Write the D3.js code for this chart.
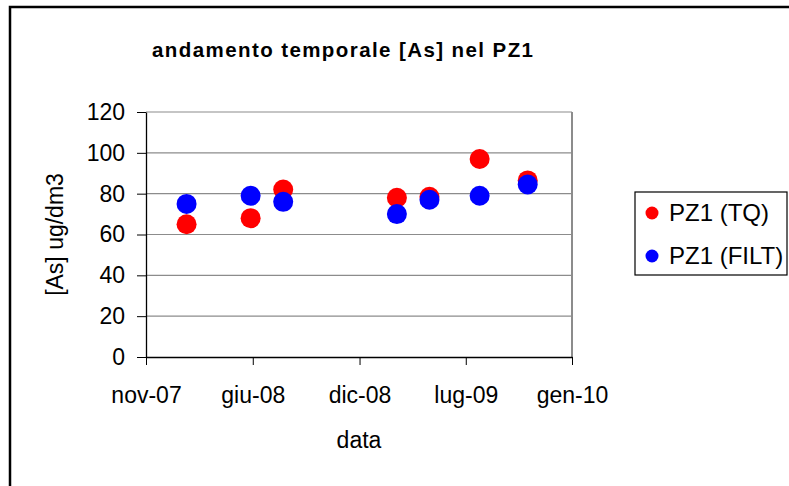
<!DOCTYPE html>
<html>
<head>
<meta charset="utf-8">
<script src="https://cdn.jsdelivr.net/npm/d3@7"></script>
<style>
  html, body { margin: 0; padding: 0; background: #fff; }
  svg { display: block; font-family: "Liberation Sans", Arial, sans-serif; }
</style>
</head>
<body>
<svg id="chart" width="789" height="486"></svg>
<script>
// Sampling dates and arsenic concentrations (ug/dm3) for PZ1
const sampleDates = ["2008-01-29", "2008-05-28", "2008-07-28", "2009-02-26", "2009-04-28", "2009-07-31", "2009-10-29"];
const valuesTQ   = [65, 68, 82, 78, 78.5, 97, 86.5];
const valuesFILT = [75, 79, 76, 70, 77, 79, 84.5];

// Axis ticks
const xTickDates  = ["2007-11-14", "2008-06-01", "2008-12-18", "2009-07-05", "2010-01-20"];
const xTickLabels = ["nov-07", "giu-08", "dic-08", "lug-09", "gen-10"];
const yTicks      = [0, 20, 40, 60, 80, 100, 120];

const seriesNames = ["PZ1 (TQ)", "PZ1 (FILT)"];
const seriesColors = ["#ff0000", "#0000ff"];

const parse = d3.utcParse("%Y-%m-%d");
const svg = d3.select("#chart");

// outer chart frame (runs past the right and bottom edges)
svg.append("path")
  .attr("d", "M10,800 L10,7 L900,7")
  .attr("fill", "none").attr("stroke", "#000").attr("stroke-width", 2.5);

const plot = { left: 146, right: 572, top: 112, bottom: 357 };

const x = d3.scaleUtc()
  .domain([parse(xTickDates[0]), parse(xTickDates[xTickDates.length - 1])])
  .range([plot.left, plot.right]);
const y = d3.scaleLinear().domain([0, 120]).range([plot.bottom, plot.top]);

// horizontal gridlines
svg.append("g")
  .selectAll("line").data(yTicks.filter(v => v > 0)).join("line")
  .attr("x1", plot.left).attr("x2", plot.right)
  .attr("y1", d => y(d)).attr("y2", d => y(d))
  .attr("stroke", "#8c8c8c").attr("stroke-width", 1.2);

// right border of plot area
svg.append("line")
  .attr("x1", plot.right).attr("x2", plot.right)
  .attr("y1", plot.top).attr("y2", plot.bottom)
  .attr("stroke", "#8c8c8c").attr("stroke-width", 2);

// y axis
const yAxis = svg.append("g")
  .attr("transform", `translate(${plot.left},0)`)
  .call(d3.axisLeft(y).tickValues(yTicks).tickSize(9).tickPadding(12).tickSizeOuter(0));
yAxis.select(".domain").attr("stroke", "#000").attr("stroke-width", 1.3);
yAxis.selectAll(".tick line").attr("stroke", "#000").attr("stroke-width", 1);
yAxis.selectAll(".tick text").attr("font-size", 23).attr("fill", "#000")
  .attr("font-family", "Liberation Sans, Arial, sans-serif");

// x axis
const labelByTime = new Map(xTickDates.map((d, i) => [+parse(d), xTickLabels[i]]));
const xAxis = svg.append("g")
  .attr("transform", `translate(0,${plot.bottom})`)
  .call(d3.axisBottom(x)
    .tickValues(xTickDates.map(parse))
    .tickFormat(d => labelByTime.get(+d))
    .tickSize(8).tickPadding(22).tickSizeOuter(0));
xAxis.select(".domain").attr("stroke", "#000").attr("stroke-width", 1.3);
xAxis.selectAll(".tick line").attr("stroke", "#000").attr("stroke-width", 1);
xAxis.selectAll(".tick text").attr("font-size", 23).attr("fill", "#000")
  .attr("font-family", "Liberation Sans, Arial, sans-serif");

// series markers: TQ below, FILT on top
const series = [valuesTQ, valuesFILT];
series.forEach((vals, si) => {
  svg.append("g")
    .selectAll("circle").data(vals).join("circle")
    .attr("cx", (d, i) => x(parse(sampleDates[i])))
    .attr("cy", d => y(d))
    .attr("r", 10)
    .attr("fill", seriesColors[si]);
});

// title
svg.append("text")
  .attr("x", 152).attr("y", 57)
  .attr("font-size", 20.5).attr("font-weight", "bold")
  .attr("textLength", 381).attr("lengthAdjust", "spacing")
  .text("andamento temporale [As] nel PZ1");

// axis titles
svg.append("text")
  .attr("transform", `translate(63,${(plot.top + plot.bottom) / 2}) rotate(-90)`)
  .attr("text-anchor", "middle").attr("font-size", 23)
  .text("[As] ug/dm3");
svg.append("text")
  .attr("x", (plot.left + plot.right) / 2).attr("y", 448)
  .attr("text-anchor", "middle").attr("font-size", 23)
  .text("data");

// legend
const legend = svg.append("g");
legend.append("rect")
  .attr("x", 635).attr("y", 192).attr("width", 152).attr("height", 83)
  .attr("fill", "#fff").attr("stroke", "#000").attr("stroke-width", 1.2);
seriesNames.forEach((name, i) => {
  const cy = 213 + i * 43;
  legend.append("circle").attr("cx", 652).attr("cy", cy).attr("r", 6.5).attr("fill", seriesColors[i]);
  legend.append("text").attr("x", 669).attr("y", cy + 8).attr("font-size", 24).text(name);
});
</script>
</body>
</html>
